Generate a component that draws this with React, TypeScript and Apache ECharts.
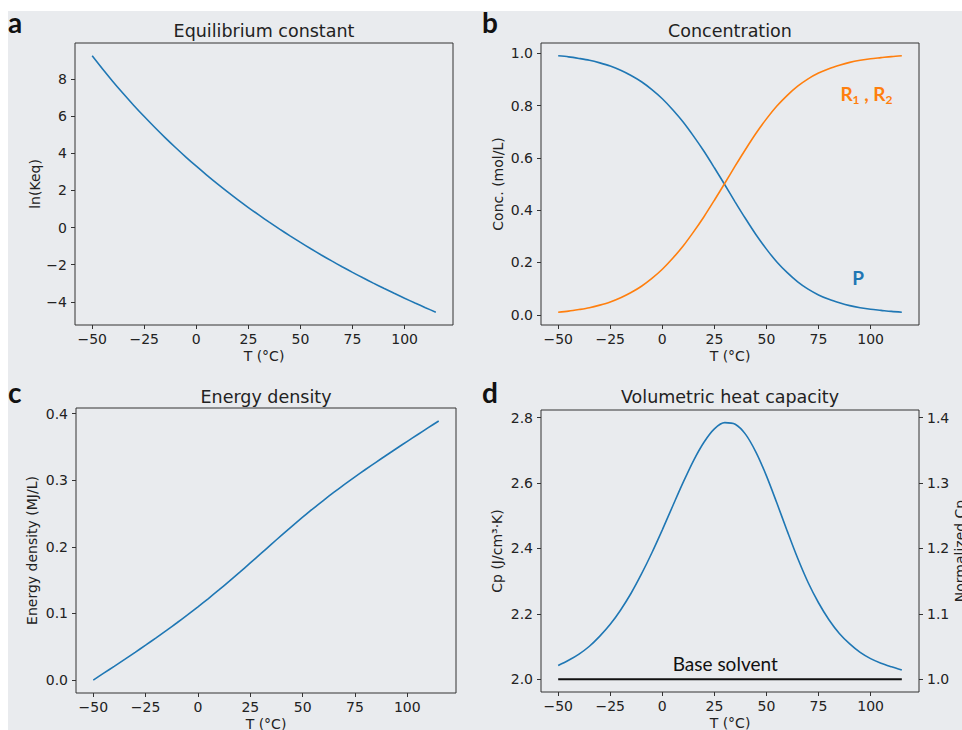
import React, { useEffect, useRef } from "react";
import * as echarts from "echarts";

// ---------- data ----------
const T = [-50, -45, -40, -35, -30, -25, -20, -15, -10, -5, 0, 5, 10, 15, 20, 25, 30, 35, 40, 45, 50, 55, 60, 65, 70, 75, 80, 85, 90, 95, 100, 105, 110, 115];

const LN_KEQ = [9.242, 8.531, 7.85, 7.198, 6.572, 5.972, 5.396, 4.841, 4.308, 3.794, 3.3, 2.823, 2.364, 1.92, 1.491, 1.076, 0.676, 0.288, -0.087, -0.451, -0.803, -1.145, -1.476, -1.797, -2.11, -2.413, -2.707, -2.994, -3.272, -3.543, -3.807, -4.064, -4.313, -4.557];

const CONC_P = [0.99, 0.986, 0.98, 0.973, 0.963, 0.951, 0.935, 0.915, 0.891, 0.861, 0.826, 0.784, 0.737, 0.683, 0.625, 0.562, 0.497, 0.431, 0.367, 0.306, 0.251, 0.202, 0.161, 0.126, 0.098, 0.076, 0.059, 0.046, 0.035, 0.027, 0.021, 0.017, 0.013, 0.01];

const CONC_R = [0.01, 0.014, 0.02, 0.027, 0.037, 0.049, 0.065, 0.085, 0.109, 0.139, 0.174, 0.216, 0.263, 0.317, 0.375, 0.438, 0.503, 0.569, 0.633, 0.694, 0.749, 0.798, 0.839, 0.874, 0.902, 0.924, 0.941, 0.954, 0.965, 0.973, 0.979, 0.983, 0.987, 0.99];

const ENERGY = [0.0, 0.0103, 0.0206, 0.031, 0.0416, 0.0524, 0.0633, 0.0745, 0.086, 0.0978, 0.1099, 0.1224, 0.1353, 0.1485, 0.162, 0.1758, 0.1897, 0.2037, 0.2175, 0.2312, 0.2445, 0.2575, 0.2699, 0.282, 0.2937, 0.305, 0.3161, 0.3269, 0.3375, 0.348, 0.3584, 0.3686, 0.3789, 0.389];

const CP = [2.042, 2.058, 2.077, 2.101, 2.132, 2.168, 2.212, 2.263, 2.322, 2.387, 2.457, 2.53, 2.602, 2.669, 2.725, 2.766, 2.785, 2.78, 2.749, 2.694, 2.622, 2.539, 2.453, 2.37, 2.296, 2.234, 2.182, 2.14, 2.108, 2.082, 2.063, 2.049, 2.038, 2.028];

const BASE_T = [-50, 115];
const BASE_CP = [2.0, 2.0];

// tick labels
const X_TICKS = [-50, -25, 0, 25, 50, 75, 100];
const LNK_TICKS = [-4, -2, 0, 2, 4, 6, 8];
const CONC_TICKS = [0, 0.2, 0.4, 0.6, 0.8, 1.0];
const ENERGY_TICKS = [0, 0.1, 0.2, 0.3, 0.4];
const CP_TICKS = [2.0, 2.2, 2.4, 2.6, 2.8];
const NORM_TICKS = [1.0, 1.1, 1.2, 1.3, 1.4];

// axis ranges (matplotlib 5% margins)
const X_RANGE = [-58.25, 123.25];
const LNK_RANGE = [-5.247, 9.932];
const CONC_RANGE = [-0.039, 1.039];
const ENERGY_RANGE = [-0.01945, 0.40845];
const CP_RANGE = [1.961, 2.8236];
const NORM_RANGE = [0.9805, 1.4118];

const TITLES = ["Equilibrium constant", "Concentration", "Energy density", "Volumetric heat capacity"];
const LETTERS = ["a", "b", "c", "d"];

// annotations anchored in data coordinates
const ANNOT_R = { t: 85.5, v: 0.845 };
const ANNOT_P = { t: 91.2, v: 0.141 };
const ANNOT_BASE = { t: 30.2, v: 2.0475 };

// ---------- styles ----------
const BG = "#e9ebee";
const SPINE = "#333333";
const TXT = "#222222";
const BLUE = "#1f77b4";
const ORANGE = "#ff7f0e";
const FONT = '"DejaVu Sans", sans-serif';
const ANNOT_FONT = 'Lato, "Open Sans", sans-serif';

const GRIDS = [
  { left: 75, top: 43, width: 378, height: 282 },
  { left: 541, top: 43, width: 378, height: 282 },
  { left: 76, top: 408, width: 380, height: 285 },
  { left: 541, top: 410, width: 378, height: 282 },
];

const minus = (s: string) => s.replace("-", "\u2212");
const fmtInt = (v: number) => minus(String(Math.round(v)));
const fmt1 = (v: number) => minus(v.toFixed(1));

function xAxis(gridIndex: number) {
  return {
    type: "value",
    gridIndex,
    position: "bottom",
    min: X_RANGE[0],
    max: X_RANGE[1],
    name: "T (°C)",
    nameLocation: "middle",
    nameGap: 24,
    nameTextStyle: { fontFamily: FONT, fontSize: 14, color: TXT },
    axisLine: { show: false, onZero: false },
    axisTick: { show: true, length: 4, inside: false, customValues: X_TICKS, lineStyle: { color: SPINE, width: 1 } },
    axisLabel: { customValues: X_TICKS, formatter: fmtInt, margin: 7, fontFamily: FONT, fontSize: 14, color: TXT },
    splitLine: { show: false },
  };
}

function yAxis(gridIndex: number, name: string, range: number[], ticks: number[], fmt: (v: number) => string, gap: number, position = "left") {
  return {
    type: "value",
    gridIndex,
    position,
    min: range[0],
    max: range[1],
    name,
    nameLocation: "middle",
    nameRotate: 90,
    nameGap: gap,
    nameTextStyle: { fontFamily: FONT, fontSize: 14, color: TXT },
    axisLine: { show: false, onZero: false },
    axisTick: { show: true, length: 4, inside: false, customValues: ticks, lineStyle: { color: SPINE, width: 1 } },
    axisLabel: { customValues: ticks, formatter: fmt, margin: 8, fontFamily: FONT, fontSize: 14, color: TXT },
    splitLine: { show: false },
  };
}

const zip = (xs: number[], ys: number[]) => xs.map((x, i) => [x, ys[i]]);

function lineSeries(idx: number, yIdx: number, data: number[][], color: string, width = 1.6, smooth: number | boolean = 0.3) {
  return {
    type: "line",
    xAxisIndex: idx,
    yAxisIndex: yIdx,
    data,
    showSymbol: false,
    smooth,
    lineStyle: { color, width },
    itemStyle: { color },
    silent: true,
  };
}

export default function App() {
  const ref = useRef<HTMLDivElement>(null);
  useEffect(() => {
    if (!ref.current) return;
    const chart = echarts.init(ref.current, null, { renderer: "svg" });
    chart.setOption({
      animation: false,
      backgroundColor: BG,
      grid: GRIDS.map((g) => ({
        ...g,
        show: true,
        borderColor: SPINE,
        borderWidth: 1,
        backgroundColor: "transparent",
        outerBoundsMode: "none",
      })),
      xAxis: [xAxis(0), xAxis(1), xAxis(2), xAxis(3)],
      yAxis: [
        yAxis(0, "ln(Keq)", LNK_RANGE, LNK_TICKS, fmtInt, 32),
        yAxis(1, "Conc. (mol/L)", CONC_RANGE, CONC_TICKS, fmt1, 36),
        yAxis(2, "Energy density (MJ/L)", ENERGY_RANGE, ENERGY_TICKS, fmt1, 37),
        yAxis(3, "Cp (J/cm\u00B3\u00B7K)", CP_RANGE, CP_TICKS, fmt1, 37),
        yAxis(3, "Normalized Cp", NORM_RANGE, NORM_TICKS, fmt1, 32, "right"),
      ],
      series: [
        lineSeries(0, 0, zip(T, LN_KEQ), BLUE),
        lineSeries(1, 1, zip(T, CONC_P), BLUE),
        lineSeries(1, 1, zip(T, CONC_R), ORANGE),
        lineSeries(2, 2, zip(T, ENERGY), BLUE),
        lineSeries(3, 3, zip(BASE_T, BASE_CP), "#111111", 2.2, false),
        lineSeries(3, 3, zip(T, CP), BLUE),
      ],
    });

    const pR = chart.convertToPixel({ xAxisIndex: 1, yAxisIndex: 1 }, [ANNOT_R.t, ANNOT_R.v]) as number[];
    const pP = chart.convertToPixel({ xAxisIndex: 1, yAxisIndex: 1 }, [ANNOT_P.t, ANNOT_P.v]) as number[];
    const pB = chart.convertToPixel({ xAxisIndex: 3, yAxisIndex: 3 }, [ANNOT_BASE.t, ANNOT_BASE.v]) as number[];

    const titleEls = GRIDS.map((g, i) => ({
      type: "text",
      x: g.left + g.width / 2,
      y: i < 2 ? 31 : 397,
      style: { text: TITLES[i], font: `17.5px ${FONT}`, fill: TXT, align: "center", verticalAlign: "middle" },
      silent: true,
    }));
    const letterPos = [
      [8, 22],
      [482, 22],
      [8, 392],
      [482, 392],
    ];
    const letterEls = LETTERS.map((l, i) => ({
      type: "text",
      x: letterPos[i][0],
      y: letterPos[i][1],
      style: { text: l, font: `bold 28px ${ANNOT_FONT}`, fill: "#111", align: "left", verticalAlign: "middle" },
      silent: true,
    }));

    chart.setOption({
      graphic: [
        { type: "rect", shape: { x: 0, y: 0, width: 962, height: 11 }, style: { fill: "#ffffff" }, silent: true },
        { type: "rect", shape: { x: 0, y: 0, width: 8, height: 730 }, style: { fill: "#ffffff" }, silent: true },
        ...titleEls,
        ...letterEls,
        {
          type: "text",
          x: pR[0],
          y: pR[1],
          style: {
            text: "{r|R}{s|1}{r| , R}{s|2}",
            align: "left",
            verticalAlign: "middle",
            rich: {
              r: { fontSize: 19, fontWeight: "bold", fontFamily: ANNOT_FONT, fill: ORANGE, verticalAlign: "middle" },
              s: { fontSize: 12, fontWeight: "bold", fontFamily: ANNOT_FONT, fill: ORANGE, verticalAlign: "middle", padding: [12, 0, 0, 0] },
            },
          },
          silent: true,
        },
        {
          type: "text",
          x: pP[0],
          y: pP[1],
          style: { text: "P", font: `bold 19px ${ANNOT_FONT}`, fill: BLUE, align: "left", verticalAlign: "middle" },
          silent: true,
        },
        {
          type: "text",
          x: pB[0],
          y: pB[1],
          style: { text: "Base solvent", font: `19px ${ANNOT_FONT}`, fill: "#111", align: "center", verticalAlign: "middle" },
          silent: true,
        },
      ],
    });

    return () => chart.dispose();
  }, []);

  return (
    <div style={{ position: "fixed", left: 0, top: 0, width: 962, height: 730, background: "#fff" }}>
      <div ref={ref} style={{ width: 962, height: 730 }} />
    </div>
  );
}
